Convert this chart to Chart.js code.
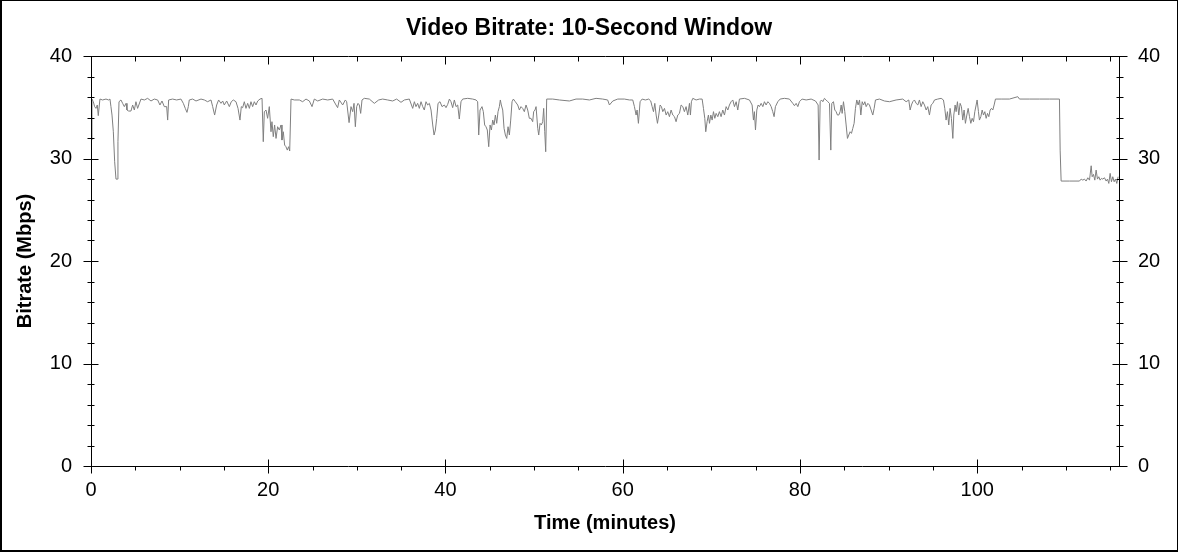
<!DOCTYPE html>
<html>
<head>
<meta charset="utf-8">
<title>Video Bitrate: 10-Second Window</title>
<script src="https://cdn.jsdelivr.net/npm/chart.js@4/dist/chart.umd.min.js"></script>
<style>
  html, body { margin: 0; padding: 0; background: #fff; }
  #wrap { width: 1178px; height: 552px; position: relative; }
</style>
</head>
<body>
<div id="wrap"><canvas id="bitrateChart" width="1178" height="552"></canvas></div>
<script>
// time (minutes) and bitrate (Mbps)
const minutes = [
  0, 0.11, 0.26, 0.41, 0.56, 0.71, 0.82, 1.01, 1.31, 1.69, 1.99, 2.14, 2.25, 2.37, 2.52, 2.67, 2.82, 2.97, 3.04, 3.16,
  3.38, 3.57, 3.76, 3.95, 4.06, 4.25, 4.51, 4.70, 4.89, 5.07, 5.26, 5.64, 6.02, 6.39, 6.77, 7.14, 7.52, 7.78, 8.01, 8.27,
  8.54, 8.65, 8.76, 9.21, 9.66, 10.15, 10.42, 10.64, 10.83, 10.98, 11.09, 11.47, 11.85, 12.41, 12.79, 13.16, 13.54, 13.73, 13.95, 14.18,
  14.40, 14.67, 14.86, 15.04, 15.31, 15.61, 15.83, 16.06, 16.36, 16.59, 16.81, 16.96, 17.11, 17.30, 17.49, 17.68, 17.87, 18.05, 18.24, 18.43,
  18.62, 18.81, 19.07, 19.30, 19.44, 19.56, 19.75, 19.93, 20.12, 20.31, 20.42, 20.57, 20.72, 20.88, 21.06, 21.25, 21.44, 21.55, 21.70, 21.85,
  22.00, 22.15, 22.30, 22.42, 22.57, 22.94, 23.51, 23.88, 24.26, 24.64, 24.94, 25.20, 25.58, 26.14, 26.71, 27.27, 27.65, 27.83, 28.02, 28.40,
  28.70, 28.85, 29.12, 29.34, 29.53, 29.68, 29.83, 29.98, 30.13, 30.28, 30.43, 30.58, 30.84, 31.41, 31.97, 32.46, 32.91, 33.48, 34.04, 34.49,
  34.98, 35.36, 35.92, 36.30, 36.49, 36.67, 36.86, 37.05, 37.24, 37.43, 37.61, 37.80, 37.99, 38.18, 38.37, 38.56, 38.71, 38.86, 39.01, 39.16,
  39.38, 39.61, 39.87, 40.06, 40.25, 40.44, 40.62, 40.81, 41.00, 41.19, 41.38, 41.56, 41.75, 41.94, 42.51, 43.07, 43.45, 43.63, 43.75, 43.90,
  44.12, 44.27, 44.42, 44.57, 44.72, 44.88, 45.03, 45.18, 45.33, 45.48, 45.63, 45.78, 45.93, 46.08, 46.19, 46.30, 46.46, 46.61, 46.76, 46.91,
  47.06, 47.21, 47.36, 47.51, 47.66, 47.88, 48.15, 48.34, 48.52, 48.71, 48.90, 49.09, 49.28, 49.46, 49.65, 49.84, 49.95, 50.10, 50.22, 50.41,
  50.52, 50.67, 50.82, 50.97, 51.08, 51.20, 51.31, 51.42, 52.10, 52.85, 53.98, 54.73, 55.48, 56.24, 56.99, 57.74, 58.30, 58.50, 58.88, 59.44,
  60.19, 60.76, 61.13, 61.32, 61.51, 61.62, 61.77, 61.96, 62.19, 62.56, 62.94, 63.16, 63.32, 63.47, 63.62, 63.77, 63.92, 64.07, 64.22, 64.37,
  64.52, 64.71, 64.90, 65.08, 65.27, 65.46, 65.65, 65.84, 66.02, 66.21, 66.40, 66.59, 66.78, 66.96, 67.15, 67.34, 67.53, 67.64, 67.75, 67.91,
  68.28, 68.66, 68.96, 69.11, 69.26, 69.37, 69.52, 69.67, 69.79, 69.94, 70.09, 70.24, 70.39, 70.54, 70.73, 70.91, 71.10, 71.29, 71.48, 71.67,
  71.86, 72.04, 72.23, 72.42, 72.61, 72.80, 72.98, 73.17, 73.74, 74.30, 74.60, 74.75, 74.86, 74.98, 75.13, 75.28, 75.43, 75.62, 75.81, 75.99,
  76.18, 76.37, 76.56, 76.75, 76.93, 77.08, 77.23, 77.50, 77.76, 78.25, 78.81, 79.19, 79.38, 79.57, 79.76, 79.94, 80.24, 80.70, 81.26, 81.75,
  82.05, 82.16, 82.28, 82.43, 82.58, 82.76, 82.95, 83.14, 83.33, 83.48, 83.59, 83.78, 83.93, 84.08, 84.23, 84.38, 84.53, 84.65, 84.76, 84.91,
  85.06, 85.21, 85.36, 85.51, 85.66, 85.81, 85.96, 86.11, 86.26, 86.41, 86.56, 86.72, 86.87, 87.02, 87.17, 87.32, 87.47, 87.66, 87.84, 88.03,
  88.22, 88.37, 88.52, 88.97, 89.53, 90.10, 90.85, 91.60, 91.98, 92.28, 92.43, 92.58, 92.73, 92.92, 93.11, 93.30, 93.48, 93.67, 93.86, 94.05,
  94.24, 94.42, 94.61, 94.80, 94.99, 95.18, 95.55, 95.93, 96.19, 96.34, 96.49, 96.64, 96.79, 96.94, 97.09, 97.25, 97.36, 97.51, 97.62, 97.77,
  97.92, 98.07, 98.22, 98.37, 98.52, 98.67, 98.83, 98.98, 99.13, 99.28, 99.43, 99.58, 99.73, 99.88, 99.99, 100.14, 100.25, 100.41, 100.56, 100.71,
  100.86, 101.01, 101.16, 101.31, 101.46, 101.61, 101.76, 101.91, 102.06, 102.70, 103.64, 104.58, 104.77, 105.90, 107.03, 108.15, 109.28, 109.36, 109.47, 110.41,
  111.54, 111.73, 111.92, 112.10, 112.29, 112.48, 112.67, 112.86, 112.97, 113.12, 113.27, 113.42, 113.57, 113.72, 113.87, 114.02, 114.17, 114.36, 114.55, 114.70,
  114.85, 115.00, 115.15, 115.30, 115.45, 115.60, 115.75, 115.90
];
const mbps = [
  31.8, 35.80, 35.54, 35.06, 34.89, 35.22, 34.18, 35.80, 35.71, 35.80, 35.71, 35.80, 35.06, 34.24, 32.61, 29.68, 27.99, 27.99, 31.64, 35.54,
  35.71, 35.38, 35.06, 35.38, 34.73, 34.63, 34.63, 35.22, 34.73, 35.54, 34.89, 35.80, 35.71, 35.87, 35.61, 35.80, 35.71, 35.22, 35.61, 35.06,
  35.06, 33.75, 35.71, 35.80, 35.71, 35.80, 35.38, 34.89, 34.50, 35.06, 35.71, 35.80, 35.61, 35.80, 35.71, 35.54, 35.71, 35.06, 34.24, 35.22,
  35.71, 35.38, 35.61, 35.22, 35.61, 35.06, 35.54, 35.71, 35.54, 34.89, 33.75, 35.06, 34.95, 35.54, 34.89, 35.38, 34.89, 35.54, 35.06, 35.54,
  35.22, 35.61, 35.80, 35.87, 31.64, 34.57, 34.73, 33.92, 35.06, 32.61, 33.59, 32.13, 33.27, 31.96, 33.10, 32.78, 33.27, 31.80, 32.61, 31.31,
  31.15, 30.82, 31.15, 30.73, 35.80, 35.71, 35.71, 35.54, 35.80, 35.61, 35.06, 35.80, 35.61, 35.80, 35.71, 35.80, 35.22, 34.96, 35.71, 35.22,
  35.71, 35.54, 33.50, 35.06, 34.57, 35.38, 33.10, 35.06, 35.38, 35.22, 34.40, 35.71, 35.87, 35.80, 35.38, 35.71, 35.80, 35.71, 35.61, 35.80,
  35.48, 35.71, 35.80, 34.89, 35.54, 35.06, 35.38, 34.89, 35.54, 35.06, 34.73, 35.54, 35.22, 35.38, 34.73, 33.27, 32.29, 32.78, 33.92, 35.38,
  35.54, 35.06, 35.22, 34.96, 35.28, 35.80, 35.54, 34.96, 35.71, 35.06, 35.22, 33.85, 35.54, 35.80, 35.87, 35.80, 35.71, 35.54, 32.29, 34.73,
  35.06, 34.57, 33.27, 33.10, 32.78, 31.15, 33.27, 32.78, 33.75, 33.27, 34.24, 33.43, 34.57, 35.06, 35.71, 35.22, 34.73, 32.94, 32.29, 31.96,
  33.10, 32.29, 33.75, 35.54, 35.80, 35.54, 35.22, 34.73, 35.06, 34.89, 34.57, 35.22, 34.73, 33.92, 33.92, 33.59, 34.57, 34.73, 35.06, 32.94,
  32.29, 33.43, 33.27, 33.59, 34.89, 32.61, 30.66, 35.80, 35.80, 35.71, 35.61, 35.80, 35.80, 35.71, 35.87, 35.80, 35.71, 35.22, 35.61, 35.80,
  35.80, 35.71, 35.71, 35.06, 34.24, 34.73, 33.43, 35.54, 35.80, 35.71, 35.80, 35.61, 35.06, 34.57, 35.38, 34.24, 33.43, 34.24, 35.22, 35.06,
  34.57, 34.89, 34.24, 34.57, 34.08, 34.73, 34.24, 34.08, 33.59, 34.24, 34.40, 35.22, 35.06, 34.57, 35.06, 34.24, 35.38, 34.24, 35.54, 35.87,
  35.71, 35.80, 35.80, 34.89, 33.92, 32.61, 33.59, 34.24, 33.43, 34.24, 33.75, 34.57, 33.92, 34.40, 34.08, 34.57, 34.08, 34.73, 34.24, 35.06,
  34.73, 35.22, 35.54, 35.71, 35.06, 35.54, 34.73, 35.80, 35.87, 35.71, 35.22, 33.75, 34.57, 32.78, 34.73, 35.22, 35.06, 35.38, 35.06, 35.54,
  35.22, 35.54, 35.38, 35.06, 34.57, 34.08, 35.06, 35.54, 35.80, 35.87, 35.80, 35.38, 35.15, 35.38, 35.06, 35.54, 35.80, 35.71, 35.80, 35.61,
  35.22, 29.85, 35.54, 35.71, 35.54, 35.87, 35.71, 35.54, 35.38, 30.82, 35.38, 35.54, 34.73, 34.57, 34.24, 34.24, 34.57, 35.22, 34.40, 35.54,
  34.57, 33.27, 31.96, 32.29, 32.61, 32.45, 32.94, 33.43, 34.89, 35.71, 35.22, 35.71, 34.24, 35.54, 35.22, 35.54, 35.06, 35.38, 35.22, 34.73,
  34.24, 34.89, 35.71, 35.80, 35.61, 35.54, 35.71, 35.80, 35.54, 35.71, 34.73, 35.22, 35.54, 35.71, 35.38, 35.22, 35.71, 35.06, 35.54, 35.22,
  34.73, 35.06, 34.24, 35.22, 35.38, 35.71, 35.80, 35.87, 35.71, 34.89, 33.75, 34.57, 33.27, 34.89, 33.92, 31.96, 34.24, 35.22, 34.57, 35.54,
  34.24, 35.38, 35.06, 33.75, 34.73, 33.43, 34.24, 34.89, 34.08, 33.43, 33.92, 33.59, 34.57, 35.22, 35.71, 34.57, 33.75, 34.08, 34.73, 34.24,
  34.57, 33.92, 34.40, 34.08, 34.73, 34.89, 34.73, 35.22, 35.80, 35.80, 35.80, 36.03, 35.80, 35.80, 35.80, 35.80, 35.80, 30.82, 27.80, 27.80,
  27.80, 27.99, 27.89, 27.99, 27.80, 28.12, 27.89, 29.29, 28.22, 28.45, 27.89, 28.87, 27.99, 28.22, 27.89, 28.06, 27.99, 28.12, 27.80, 27.99,
  27.57, 28.55, 27.73, 28.22, 27.73, 27.99, 27.57, 28.22
];
const xTicks = [0, 20, 40, 60, 80, 100];
const yTicks = [0, 10, 20, 30, 40];
const xMinorStep = 5;
const yMinorStep = 2;

const FONT = "'Liberation Sans', Arial, sans-serif";
Chart.defaults.font.family = FONT;
Chart.defaults.color = '#000';

const points = minutes.map((t, i) => ({ x: t, y: mbps[i] }));

// frame around the plot, tick marks crossing the axes, outer border
const frameTicks = {
  id: 'frameTicks',
  afterDraw(chart) {
    const { ctx, chartArea: a } = chart;
    const xs = chart.scales.x, ys = chart.scales.y;
    const L = Math.round(a.left) + 0.5, R = Math.round(a.right) + 0.5;
    const T = Math.round(a.top) + 0.5, B = Math.round(a.bottom) + 0.5;
    ctx.save();
    ctx.fillStyle = '#000';
    ctx.fillRect(0, 0, chart.width, 1);
    ctx.fillRect(0, 0, 2, chart.height);
    ctx.fillRect(chart.width - 1, 0, 1, chart.height);
    ctx.fillRect(0, chart.height - 2, chart.width, 2);
    ctx.strokeStyle = '#000';
    ctx.lineWidth = 1;
    ctx.beginPath();
    ctx.moveTo(L, T); ctx.lineTo(R, T); ctx.lineTo(R, B); ctx.lineTo(L, B); ctx.closePath();
    for (let v = 0; v <= ys.max + 1e-9; v += yMinorStep) {
      const y = Math.round(ys.getPixelForValue(v)) + 0.5;
      const major = yTicks.includes(v);
      const o = major ? 8 : 4, i = major ? 7 : 3;
      ctx.moveTo(L - o, y); ctx.lineTo(L + i, y);
      ctx.moveTo(R - i, y); ctx.lineTo(R + o, y);
    }
    for (let v = 0; v <= xs.max + 1e-9; v += xMinorStep) {
      const x = Math.round(xs.getPixelForValue(v)) + 0.5;
      const major = xTicks.includes(v);
      ctx.moveTo(x, T); ctx.lineTo(x, T + (major ? 8 : 5));
      ctx.moveTo(x, B - (major ? 7 : 0)); ctx.lineTo(x, B + (major ? 7 : 4));
    }
    ctx.stroke();
    ctx.restore();
  }
};

const fixedTicks = list => scale => { scale.ticks = list.map(v => ({ value: v })); };

new Chart(document.getElementById('bitrateChart').getContext('2d'), {
  type: 'line',
  data: {
    datasets: [{
      data: points,
      borderColor: '#7f7f7f',
      borderWidth: 1,
      pointRadius: 0,
      tension: 0,
      fill: false
    }]
  },
  options: {
    responsive: false,
    animation: false,
    events: [],
    parsing: false,
    layout: { padding: 0 },
    plugins: {
      legend: { display: false },
      tooltip: { enabled: false },
      title: {
        display: true,
        text: 'Video Bitrate: 10-Second Window',
        color: '#000',
        font: { size: 23, weight: 'bold', lineHeight: 1.2 },
        padding: { top: 15, bottom: 13.4 }
      }
    },
    scales: {
      x: {
        type: 'linear',
        position: 'bottom',
        min: 0, max: 116,
        afterBuildTicks: fixedTicks(xTicks),
        afterFit: s => { s.height = 86; },
        grid: { display: false, drawTicks: false },
        border: { display: false },
        ticks: { font: { size: 20 }, color: '#000', padding: 12, maxRotation: 0 },
        title: {
          display: true, text: 'Time (minutes)', color: '#000',
          font: { size: 20, weight: 'bold', lineHeight: 1.2 },
          padding: { top: 0, bottom: 17 }
        }
      },
      y: {
        position: 'left',
        min: 0, max: 40,
        afterBuildTicks: fixedTicks(yTicks),
        afterFit: s => { s.width = 91; },
        grid: { display: false, drawTicks: false },
        border: { display: false },
        ticks: { font: { size: 20 }, color: '#000', padding: 19 },
        title: {
          display: true, text: 'Bitrate (Mbps)', color: '#000',
          font: { size: 20, weight: 'bold', lineHeight: 1.2 },
          padding: { top: 13, bottom: 0 }
        }
      },
      y2: {
        position: 'right',
        min: 0, max: 40,
        afterBuildTicks: fixedTicks(yTicks),
        afterFit: s => { s.width = 59; },
        grid: { display: false, drawTicks: false },
        border: { display: false },
        ticks: { font: { size: 20 }, color: '#000', padding: 19 }
      }
    }
  },
  plugins: [frameTicks]
});
</script>
</body>
</html>
